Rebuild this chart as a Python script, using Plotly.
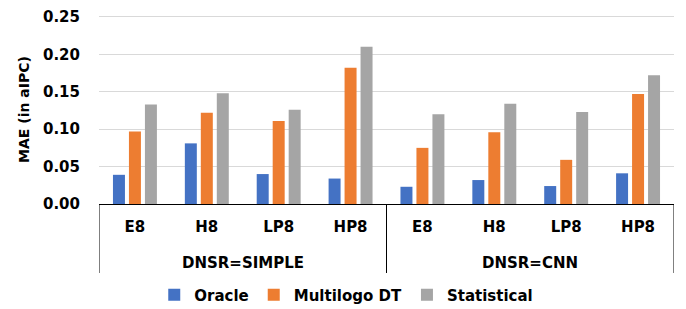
import plotly.graph_objects as go

groups = ["DNSR=SIMPLE", "DNSR=CNN"]
workloads = ["E8", "H8", "LP8", "HP8", "E8", "H8", "LP8", "HP8"]
y_ticks = [0.00, 0.05, 0.10, 0.15, 0.20, 0.25]

oracle = [0.039, 0.081, 0.040, 0.034, 0.023, 0.032, 0.024, 0.041]
multilogo_dt = [0.097, 0.122, 0.111, 0.182, 0.075, 0.096, 0.059, 0.147]
statistical = [0.133, 0.148, 0.126, 0.210, 0.120, 0.134, 0.123, 0.172]

series = [
    ("Oracle", oracle, "#4472C4"),
    ("Multilogo DT", multilogo_dt, "#ED7D31"),
    ("Statistical", statistical, "#A5A5A5"),
]

FONT = "DejaVu Sans"
BOLD = dict(family=FONT, color="black", weight="bold")

positions = list(range(len(workloads)))
per_group = len(workloads) // len(groups)

fig = go.Figure()
for name, vals, color in series:
    fig.add_trace(go.Bar(
        x=positions, y=vals, name=name,
        marker=dict(color=color, line=dict(width=0)),
    ))

# group labels and divider lines below the axis
for gi, g in enumerate(groups):
    center = gi * per_group + (per_group - 1) / 2
    fig.add_annotation(
        x=center, xref="x", y=-0.312, yref="paper", yanchor="middle",
        text=g, showarrow=False, font=dict(BOLD, size=15),
    )
for b in range(len(groups) + 1):
    xb = b * per_group - 0.5
    fig.add_shape(
        type="line", xref="x", yref="paper", x0=xb, x1=xb, y0=0, y1=-0.365,
        line=dict(color="black", width=1),
    )

# the page body adds an 8px offset, so the figure is 8px smaller
fig.update_layout(
    width=678, height=301,
    margin=dict(l=91, r=12, t=7, b=105, autoexpand=False),
    paper_bgcolor="white", plot_bgcolor="white",
    barmode="group", bargap=0.333, bargroupgap=0.25,
    font=dict(family=FONT, color="black"),
    showlegend=True,
    legend=dict(
        orientation="h", x=0.43, xanchor="center", y=-0.481, yanchor="middle",
        font=dict(BOLD, size=15),
        itemwidth=30, tracegroupgap=0,
    ),
)
fig.update_xaxes(
    range=[-0.5, len(workloads) - 0.5],
    tickmode="array", tickvals=positions, ticktext=workloads,
    showline=True, linecolor="black", linewidth=1,
    ticks="", ticklabelstandoff=9,
    tickfont=dict(BOLD, size=15),
    showgrid=False, zeroline=False, automargin=False,
)
fig.update_yaxes(
    range=[0, 0.2525],
    tickmode="array", tickvals=y_ticks, ticktext=[f"{v:.2f}" for v in y_ticks],
    ticklabeloverflow="allow",
    showgrid=True, gridcolor="#d9d9d9", gridwidth=1,
    zeroline=False, showline=False, automargin=False,
    tickfont=dict(BOLD, size=15),
    ticklabelstandoff=18,
    title=dict(text="MAE (in aIPC)", font=dict(BOLD, size=14), standoff=10),
)

fig.write_html("out.html")
